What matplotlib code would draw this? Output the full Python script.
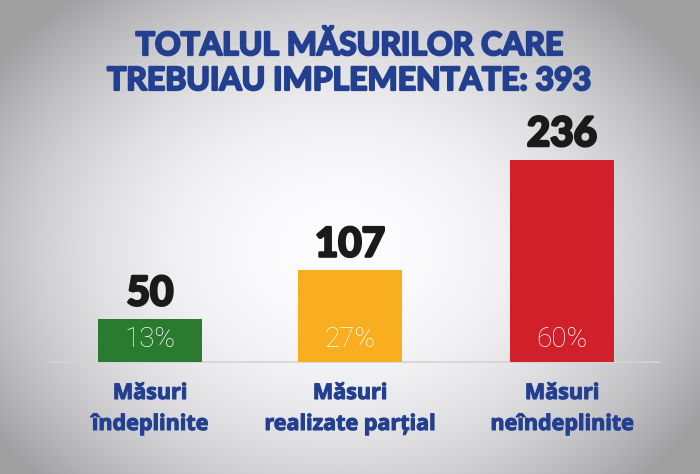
import numpy as np
import matplotlib
matplotlib.use("Agg")
import matplotlib.pyplot as plt
import matplotlib.patheffects as pe

# date
categorii = ["Măsuri\nîndeplinite", "Măsuri\nrealizate parțial", "Măsuri\nneîndeplinite"]
valori = [50, 107, 236]
procente = ["13%", "27%", "60%"]
total = 393

culori = ["#2a7a2f", "#f8ae1f", "#d2202a"]
albastru = "#233f8f"

W, H = 700, 474
fig = plt.figure(figsize=(W / 100, H / 100), dpi=100)

# fundal cu gradient radial
bg = fig.add_axes([0, 0, 1, 1])
yy, xx = np.mgrid[0:H, 0:W]
r = np.sqrt(((xx - 340) / 420.0) ** 2 + ((yy - 250) / 330.0) ** 2)
r = np.clip(r, 0, 1)
lum = 1.0 - 0.37 * r ** 2.2
img = np.dstack([lum * 0.99, lum * 0.99, lum * 1.0])
bg.imshow(np.clip(img, 0, 1), extent=[0, W, H, 0], aspect="auto")
bg.set_xlim(0, W)
bg.set_ylim(H, 0)
bg.axis("off")


def gros(c, w):
    return [pe.withStroke(linewidth=w, foreground=c)]


# titlu
bg.text(350, 55, "TOTALUL MĂSURILOR CARE", ha="center", va="baseline",
        fontsize=23, fontweight="bold", color=albastru, family="Lato",
        path_effects=gros(albastru, 1.6))
bg.text(350, 90, f"TREBUIAU IMPLEMENTATE: {total}", ha="center", va="baseline",
        fontsize=23, fontweight="bold", color=albastru, family="Lato",
        path_effects=gros(albastru, 1.6))

# bare
base = 362
px_per_unit = 0.857
ax = fig.add_axes([0, (H - base) / H, 1, base / H])
ax.set_xlim(0, W)
ax.set_ylim(0, base / px_per_unit)
ax.axis("off")

xpos = [150, 350, 562]
ax.bar(xpos, valori, width=104, color=culori, zorder=2)
ax.plot([50, 660], [0, 0], color="#d4d4d6", lw=1.2, zorder=1, clip_on=False)

for x, v, p in zip(xpos, valori, procente):
    ax.annotate(str(v), (x, v), xytext=(0, 10), textcoords="offset points",
                ha="center", va="baseline", fontsize=29, fontweight="bold",
                color="#1a1a1a", family="Lato", path_effects=gros("#1a1a1a", 2.0))
    ax.annotate(p, (x, 0), xytext=(0, 11), textcoords="offset points",
                ha="center", va="baseline", fontsize=20, fontweight="light",
                color="white", family="Roboto")

for x, c in zip(xpos, categorii):
    l1, l2 = c.split("\n")
    bg.text(x, 399, l1, ha="center", va="baseline", fontsize=15.5,
            fontweight="bold", color=albastru, family="Open Sans",
            path_effects=gros(albastru, 0.8))
    bg.text(x, 430, l2, ha="center", va="baseline", fontsize=15.5,
            fontweight="bold", color=albastru, family="Open Sans",
            path_effects=gros(albastru, 0.8))

fig.savefig("out.png", dpi=100)
